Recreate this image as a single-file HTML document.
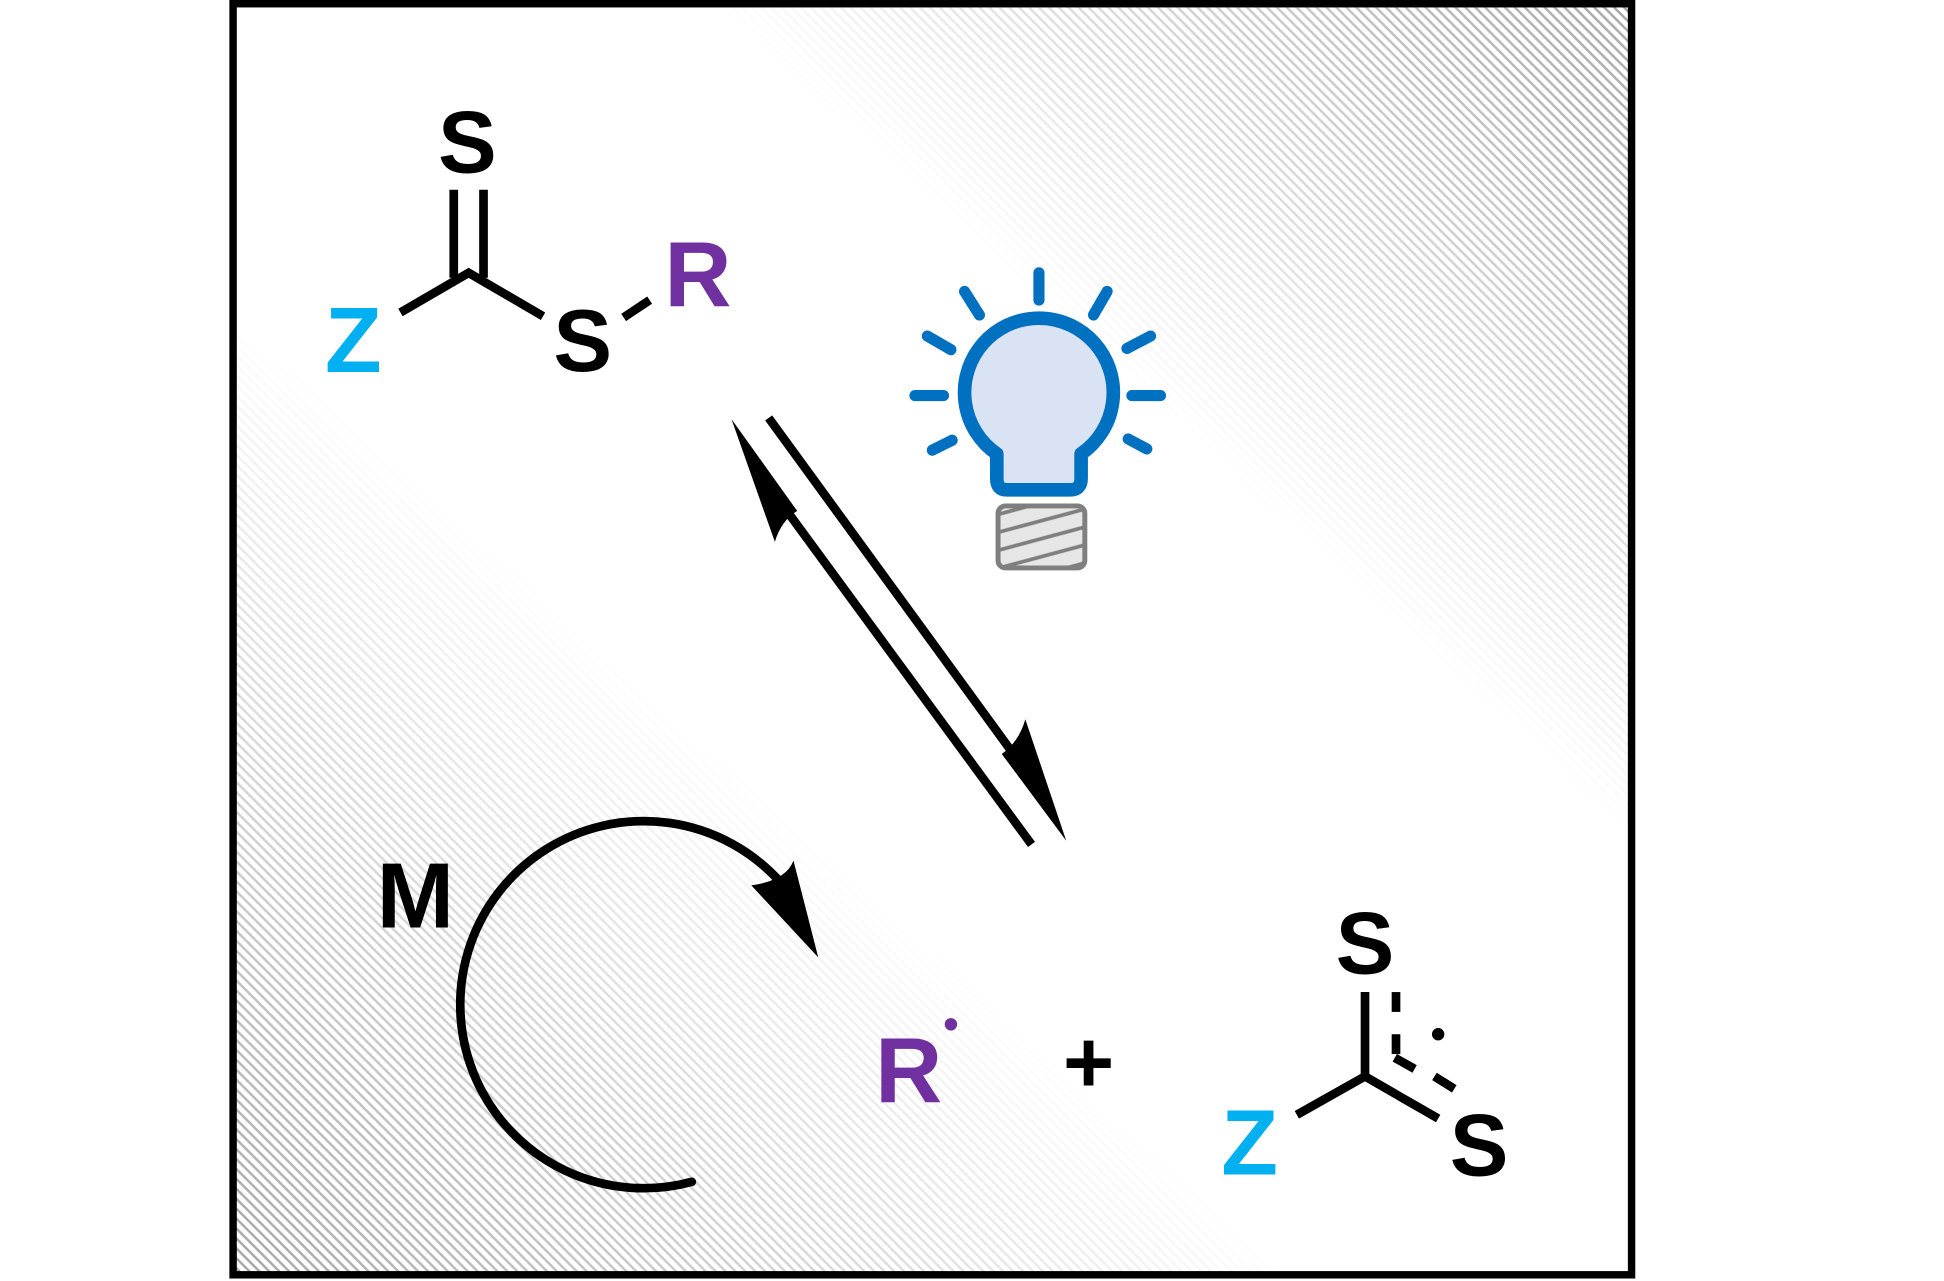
<!DOCTYPE html>
<html><head><meta charset="utf-8"><style>
html,body{margin:0;padding:0;background:#fff;}
svg{display:block;}
text{font-family:"Liberation Sans",Arial,sans-serif;font-weight:bold;text-anchor:middle;}
</style></head><body>
<svg width="1944" height="1281" viewBox="0 0 1568 1033" preserveAspectRatio="none" xmlns="http://www.w3.org/2000/svg">
<defs>
<pattern id="hatch" patternUnits="userSpaceOnUse" width="8" height="8">
<path d="M-2,-2 L10,10 M-2,6 L2,10 M6,-2 L10,2" stroke="#888" stroke-width="2"/>
</pattern>
<linearGradient id="g" x1="1" y1="0" x2="0" y2="1">
<stop offset="0" stop-color="#fff" stop-opacity="0.75"/>
<stop offset="0.33" stop-color="#fff" stop-opacity="0"/>
<stop offset="0.62" stop-color="#fff" stop-opacity="0"/>
<stop offset="1" stop-color="#fff" stop-opacity="0.75"/>
</linearGradient>
<mask id="m"><rect x="188" y="3" width="1128" height="1025" fill="url(#g)"/></mask>
<pattern id="bh" patternUnits="userSpaceOnUse" width="72" height="14" patternTransform="rotate(-15)">
<line x1="0" y1="7" x2="72" y2="7" stroke="#7f7f7f" stroke-width="3"/>
</pattern>
</defs>
<rect x="188" y="3" width="1128" height="1025" fill="url(#hatch)" mask="url(#m)"/>
<rect x="188" y="3" width="1128" height="1025" fill="none" stroke="#000" stroke-width="6"/>

<g stroke="#000" stroke-width="7" fill="none">
<line x1="366" y1="153" x2="366" y2="224"/><line x1="390" y1="153" x2="390" y2="224"/>
<polyline points="323,252 378,220 438,255"/>
<line x1="503" y1="256" x2="524" y2="242"/>
</g>
<text x="377" y="139" font-size="71">S</text>
<text x="285" y="300" font-size="75" fill="#00b0f0">Z</text>
<text x="470" y="299" font-size="71">S</text>
<text x="563" y="247" font-size="75" fill="#7030a0">R</text>

<g stroke="#000" stroke-width="7">
<line x1="620" y1="337" x2="832" y2="628"/>
<line x1="832" y1="681" x2="620" y2="392"/>
</g>
<path d="M860,678 L827,580 Q822,598 808,608 Z" fill="#000"/>
<path d="M590,338 L625,437 Q630,420 643,412 Z" fill="#000"/>

<g stroke="#0070c0" stroke-width="9" stroke-linecap="round" fill="none">
<line x1="838" y1="220" x2="838" y2="242"/>
<line x1="778" y1="235" x2="790" y2="254"/>
<line x1="893" y1="235" x2="882" y2="254"/>
<line x1="748" y1="271" x2="767" y2="282"/>
<line x1="928" y1="271" x2="909" y2="281"/>
<line x1="738" y1="319" x2="761" y2="319"/>
<line x1="913" y1="319" x2="936" y2="319"/>
<line x1="752" y1="363" x2="768" y2="355"/>
<line x1="925" y1="362" x2="910" y2="354"/>
</g>
<path d="M804,366 A60,60 0 1 1 872,366 L872,386 Q872,395 863,395 L812,395 Q804,395 804,386 Z" fill="#dae3f3" stroke="#0070c0" stroke-width="11" stroke-linejoin="round"/>
<rect x="805" y="408" width="70" height="50" rx="6" fill="#e7e6e6"/>
<rect x="805" y="408" width="70" height="50" rx="6" fill="url(#bh)"/>
<rect x="805" y="408" width="70" height="50" rx="6" fill="none" stroke="#7f7f7f" stroke-width="4"/>

<path d="M558,953 A148,148 0 1 1 630,712" fill="none" stroke="#000" stroke-width="7" stroke-linecap="round"/>
<path d="M660,772 L640,694 Q634,710 606,714 Z" fill="#000"/>
<text x="335" y="748" font-size="75">M</text>

<text x="733" y="889" font-size="75" fill="#7030a0">R</text>
<circle cx="767" cy="826" r="5" fill="#7030a0"/>
<text x="878" y="881" font-size="71">+</text>
<g stroke="#000" stroke-width="7" fill="none">
<line x1="1101" y1="800" x2="1101" y2="868"/>
<line x1="1126" y1="800" x2="1126" y2="816"/>
<line x1="1126" y1="834" x2="1126" y2="850"/>
<polyline points="1046,899 1101,868 1160,902"/>
<line x1="1125" y1="853" x2="1141" y2="862"/>
<line x1="1157" y1="868" x2="1173" y2="878"/>
</g>
<circle cx="1160" cy="834" r="5" fill="#000"/>
<text x="1101" y="785" font-size="71">S</text>
<text x="1008" y="947" font-size="75" fill="#00b0f0">Z</text>
<text x="1193" y="948" font-size="71">S</text>
</svg>
</body></html>
